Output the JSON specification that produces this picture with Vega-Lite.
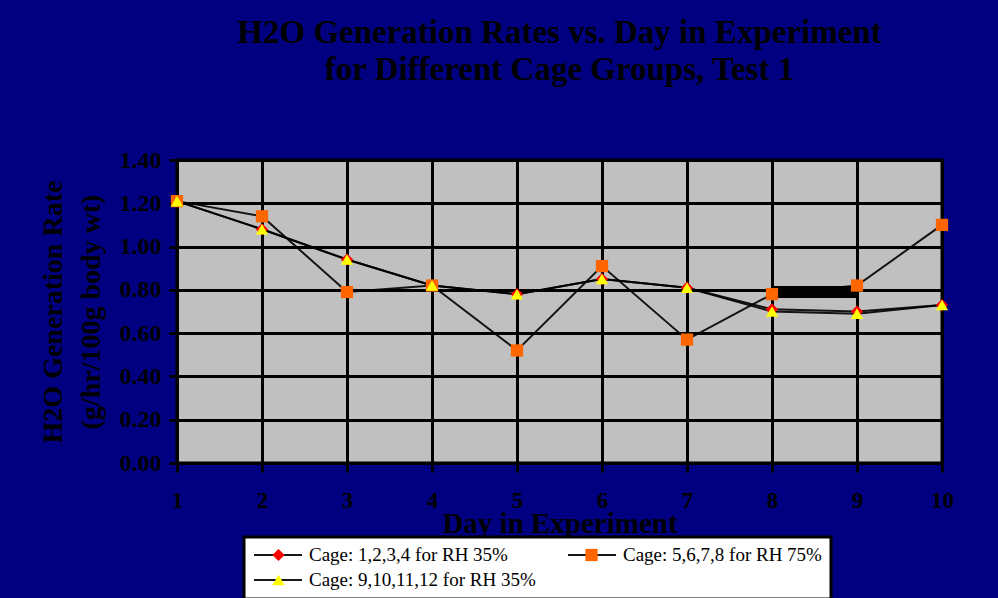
{
  "$schema": "https://vega.github.io/schema/vega-lite/v6.json",
  "width": 765,
  "height": 303,
  "autosize": {"type": "none"},
  "padding": {"left": 177, "top": 160, "right": 56, "bottom": 135},
  "background": "#000080",
  "title": {
    "text": ["H2O Generation Rates vs. Day in Experiment", "for Different Cage Groups, Test 1"],
    "font": "Liberation Serif",
    "fontSize": 33,
    "fontWeight": "bold",
    "color": "#000000",
    "lineHeight": 37,
    "anchor": "middle",
    "offset": 61
  },
  "config": {
    "view": {"fill": "#C0C0C0", "stroke": "#000000", "strokeWidth": 3},
    "legend": {"strokeWidth": 3},
    "axis": {
      "labelFont": "Liberation Serif",
      "labelFontWeight": "bold",
      "labelColor": "#000000",
      "titleFont": "Liberation Serif",
      "titleFontWeight": "bold",
      "titleColor": "#000000",
      "domainColor": "#000000",
      "domainWidth": 3,
      "tickColor": "#000000",
      "tickWidth": 3,
      "gridColor": "#000000",
      "gridWidth": 3,
      "gridOpacity": 1,
      "labelFlush": false,
      "labelOverlap": false
    }
  },
  "datasets": {
    "rates": [
      {"day": 1, "series": "Cage: 1,2,3,4 for RH 35%", "rate": 1.21},
      {"day": 2, "series": "Cage: 1,2,3,4 for RH 35%", "rate": 1.08},
      {"day": 3, "series": "Cage: 1,2,3,4 for RH 35%", "rate": 0.94},
      {"day": 4, "series": "Cage: 1,2,3,4 for RH 35%", "rate": 0.82},
      {"day": 5, "series": "Cage: 1,2,3,4 for RH 35%", "rate": 0.78},
      {"day": 6, "series": "Cage: 1,2,3,4 for RH 35%", "rate": 0.85},
      {"day": 7, "series": "Cage: 1,2,3,4 for RH 35%", "rate": 0.81},
      {"day": 8, "series": "Cage: 1,2,3,4 for RH 35%", "rate": 0.71},
      {"day": 9, "series": "Cage: 1,2,3,4 for RH 35%", "rate": 0.70},
      {"day": 10, "series": "Cage: 1,2,3,4 for RH 35%", "rate": 0.73},
      {"day": 1, "series": "Cage: 5,6,7,8 for RH 75%", "rate": 1.21},
      {"day": 2, "series": "Cage: 5,6,7,8 for RH 75%", "rate": 1.14},
      {"day": 3, "series": "Cage: 5,6,7,8 for RH 75%", "rate": 0.79},
      {"day": 4, "series": "Cage: 5,6,7,8 for RH 75%", "rate": 0.82},
      {"day": 5, "series": "Cage: 5,6,7,8 for RH 75%", "rate": 0.52},
      {"day": 6, "series": "Cage: 5,6,7,8 for RH 75%", "rate": 0.91},
      {"day": 7, "series": "Cage: 5,6,7,8 for RH 75%", "rate": 0.57},
      {"day": 8, "series": "Cage: 5,6,7,8 for RH 75%", "rate": 0.78},
      {"day": 9, "series": "Cage: 5,6,7,8 for RH 75%", "rate": 0.82},
      {"day": 10, "series": "Cage: 5,6,7,8 for RH 75%", "rate": 1.10},
      {"day": 1, "series": "Cage: 9,10,11,12 for RH 35%", "rate": 1.21},
      {"day": 2, "series": "Cage: 9,10,11,12 for RH 35%", "rate": 1.08},
      {"day": 3, "series": "Cage: 9,10,11,12 for RH 35%", "rate": 0.94},
      {"day": 4, "series": "Cage: 9,10,11,12 for RH 35%", "rate": 0.82},
      {"day": 5, "series": "Cage: 9,10,11,12 for RH 35%", "rate": 0.78},
      {"day": 6, "series": "Cage: 9,10,11,12 for RH 35%", "rate": 0.85},
      {"day": 7, "series": "Cage: 9,10,11,12 for RH 35%", "rate": 0.81},
      {"day": 8, "series": "Cage: 9,10,11,12 for RH 35%", "rate": 0.70},
      {"day": 9, "series": "Cage: 9,10,11,12 for RH 35%", "rate": 0.69},
      {"day": 10, "series": "Cage: 9,10,11,12 for RH 35%", "rate": 0.73}
    ],
    "band": [
      {"start": 8, "end": 9, "rate": 0.79}
    ]
  },
  "layer": [
    {
      "data": {"name": "rates"},
      "mark": {"type": "line", "strokeWidth": 2, "opacity": 0.9},
      "encoding": {
        "x": {
          "field": "day", "type": "quantitative",
          "scale": {"domain": [1, 10], "nice": false, "zero": false},
          "axis": {
            "values": [1, 2, 3, 4, 5, 6, 7, 8, 9, 10],
            "format": "d",
            "labelFontSize": 23,
            "labelPadding": 17,
            "tickSize": 9,
            "title": "Day in Experiment",
            "titleFontSize": 29,
            "titlePadding": -3
          }
        },
        "y": {
          "field": "rate", "type": "quantitative",
          "scale": {"domain": [0, 1.4], "nice": false},
          "axis": {
            "values": [0, 0.2, 0.4, 0.6, 0.8, 1.0, 1.2, 1.4],
            "format": ".2f",
            "labelFontSize": 24,
            "labelPadding": 8,
            "tickSize": 8,
            "title": ["H2O Generation Rate", "(g/hr/100g body wt)"],
            "titleFontSize": 28,
            "titleLineHeight": 38,
            "titlePadding": 14
          }
        },
        "stroke": {
          "field": "series", "type": "nominal",
          "scale": {"range": ["#000000", "#000000", "#000000"]},
          "legend": {
            "orient": "none",
            "legendX": 67,
            "legendY": 377,
            "zindex": 1,
            "title": null,
            "direction": "horizontal",
            "columns": 2,
            "symbolType": "stroke",
            "symbolSize": 2304,
            "symbolStrokeWidth": 2,
            "clipHeight": 18,
            "rowPadding": 6,
            "columnPadding": 31,
            "padding": 9,
            "labelFont": "Liberation Serif",
            "labelFontSize": 19,
            "labelColor": "#000000",
            "labelOffset": 6,
            "labelLimit": 400,
            "fillColor": "#FFFFFF",
            "strokeColor": "#000000"
          }
        }
      }
    },
    {
      "data": {"name": "band"},
      "mark": {"type": "rule", "color": "#000000", "strokeWidth": 12},
      "encoding": {
        "x": {"field": "start", "type": "quantitative"},
        "x2": {"field": "end"},
        "y": {"field": "rate", "type": "quantitative"}
      }
    },
    {
      "data": {"name": "rates"},
      "mark": {"type": "point", "filled": true, "opacity": 1, "strokeWidth": 0},
      "encoding": {
        "x": {"field": "day", "type": "quantitative"},
        "y": {"field": "rate", "type": "quantitative"},
        "color": {
          "field": "series", "type": "nominal",
          "scale": {
            "domain": ["Cage: 1,2,3,4 for RH 35%", "Cage: 5,6,7,8 for RH 75%", "Cage: 9,10,11,12 for RH 35%"],
            "range": ["#FF0000", "#FF6600", "#FFFF00"]
          },
          "legend": {
            "orient": "none",
            "legendX": 67,
            "legendY": 377,
            "zindex": 2,
            "title": null,
            "direction": "horizontal",
            "columns": 2,
            "symbolSize": 2304,
            "symbolStrokeWidth": 2,
            "symbolStrokeColor": "transparent",
            "symbolOffset": 16,
            "clipHeight": 18,
            "rowPadding": 6,
            "columnPadding": 14,
            "padding": 9,
            "labelFont": "Liberation Serif",
            "labelFontSize": 19,
            "labelColor": "transparent",
            "labelOffset": 37,
            "labelLimit": 400,
            "strokeColor": null,
            "fillColor": null,
            "encode": {
              "symbols": {
                "update": {
                  "shape": {"signal": "datum.index === 0 ? 'M0,-0.28L0.28,0L0,0.28L-0.28,0Z' : datum.index === 1 ? 'M-0.26,-0.26H0.26V0.26H-0.26Z' : 'M0,-0.3L0.32,0.27H-0.32Z'"},
                  "opacity": {"value": 1}
                }
              }
            }
          }
        },
        "shape": {
          "field": "series", "type": "nominal",
          "scale": {
            "domain": ["Cage: 1,2,3,4 for RH 35%", "Cage: 5,6,7,8 for RH 75%", "Cage: 9,10,11,12 for RH 35%"],
            "range": ["diamond", "square", "triangle-up"]
          },
          "legend": null
        },
        "size": {
          "field": "series", "type": "nominal",
          "scale": {
            "domain": ["Cage: 1,2,3,4 for RH 35%", "Cage: 5,6,7,8 for RH 75%", "Cage: 9,10,11,12 for RH 35%"],
            "range": [150, 150, 230]
          },
          "legend": null
        }
      }
    }
  ]
}
